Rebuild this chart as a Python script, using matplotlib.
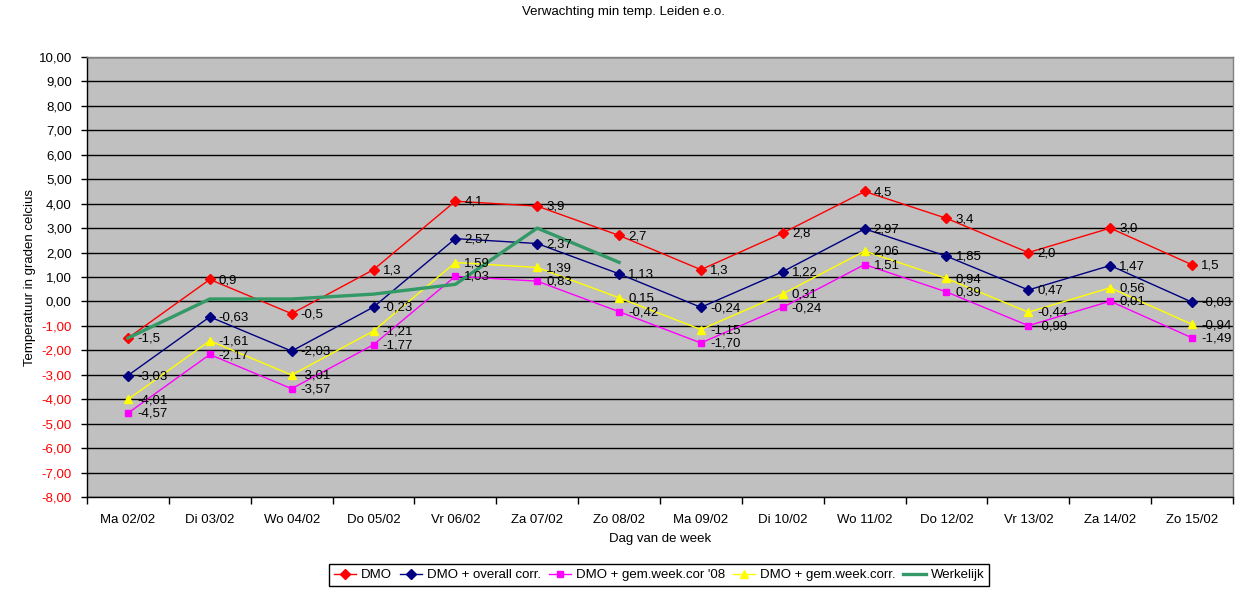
import matplotlib
matplotlib.use("Agg")
import matplotlib.pyplot as plt
from matplotlib.ticker import MultipleLocator, FixedLocator

plt.rcParams['font.family'] = ['Liberation Sans', 'DejaVu Sans']

days = ["Ma 02/02", "Di 03/02", "Wo 04/02", "Do 05/02", "Vr 06/02", "Za 07/02", "Zo 08/02",
        "Ma 09/02", "Di 10/02", "Wo 11/02", "Do 12/02", "Vr 13/02", "Za 14/02", "Zo 15/02"]

dmo = [-1.5, 0.9, -0.5, 1.3, 4.1, 3.9, 2.7, 1.3, 2.8, 4.5, 3.4, 2.0, 3.0, 1.5]
dmo_overall = [-3.03, -0.63, -2.03, -0.23, 2.57, 2.37, 1.13, -0.24, 1.22, 2.97, 1.85, 0.47, 1.47, -0.03]
dmo_week08 = [-4.57, -2.17, -3.57, -1.77, 1.03, 0.83, -0.42, -1.70, -0.24, 1.51, 0.39, -0.99, 0.01, -1.49]
dmo_week = [-4.01, -1.61, -3.01, -1.21, 1.59, 1.39, 0.15, -1.15, 0.31, 2.06, 0.94, -0.44, 0.56, -0.94]
werkelijk = [-1.5, 0.1, 0.1, 0.3, 0.7, 3.0, 1.6]

series_names = ["DMO", "DMO + overall corr.", "DMO + gem.week.cor '08", "DMO + gem.week.corr.", "Werkelijk"]

fig = plt.figure(figsize=(12.5, 5.95), dpi=100)
ax = fig.add_axes([87/1250, 1-497/595, (1233-87)/1250, (497-57)/595])
ax.set_facecolor("#C0C0C0")

x = list(range(len(days)))
fs = 9.5

def fmt(v, d):
    return f"{v:.{d}f}".replace(".", ",")

specs = [
    (dmo, "#FF0000", "D", 5, series_names[0]),
    (dmo_overall, "#000080", "D", 5, series_names[1]),
    (dmo_week08, "#FF00FF", "s", 5, series_names[2]),
    (dmo_week, "#FFFF00", "^", 6, series_names[3]),
]
handles = []
for vals, col, mk, ms, name in specs:
    h, = ax.plot(x, vals, color=col, lw=1, marker=mk, ms=ms, mec=col, mfc=col, zorder=3, label=name)
    handles.append(h)
    d = 1 if name == "DMO" else 2
    for xi, v in zip(x, vals):
        ax.annotate(fmt(v, d), (xi, v), xytext=(6.5, -0.5), textcoords="offset points",
                    ha="left", va="center", fontsize=fs, color="black", zorder=6)

hw, = ax.plot(x[:len(werkelijk)], werkelijk, color="#339966", lw=2.4, zorder=4, label=series_names[4])
handles.append(hw)

ax.set_xlim(-0.5, len(days) - 0.5)
ax.set_ylim(-8, 10)
ax.yaxis.set_major_locator(MultipleLocator(1))
ax.grid(axis="y", color="black", lw=1)
ax.set_axisbelow(True)

yt = list(range(-8, 11))
ax.set_yticks(yt)
ax.set_yticklabels([fmt(v, 2) for v in yt], fontsize=fs)
for lab, v in zip(ax.get_yticklabels(), yt):
    lab.set_color("red" if v < 0 else "black")
ax.tick_params(axis="y", length=4, width=1, pad=7, direction="out")

ax.set_xticks(x)
ax.set_xticklabels(days, fontsize=fs)
ax.tick_params(axis="x", which="major", length=0, pad=12)
ax.xaxis.set_minor_locator(FixedLocator([i - 0.5 for i in range(len(days) + 1)]))
ax.tick_params(axis="x", which="minor", length=5, width=1, direction="out")

for s in ["left", "bottom"]:
    ax.spines[s].set_color("black")
    ax.spines[s].set_linewidth(1)
for s in ["top", "right"]:
    ax.spines[s].set_color("#808080")
    ax.spines[s].set_linewidth(1)

ax.set_xlabel("Dag van de week", fontsize=fs, labelpad=5)
ax.set_ylabel("Temperatuur in graden celcius", fontsize=fs, labelpad=2)

fig.text(623/1250, 1-12/595, "Verwachting min temp. Leiden e.o.", ha="center", va="center", fontsize=fs)

leg = fig.legend(handles=handles, loc="center", bbox_to_anchor=(659/1250, 1-575/595), ncol=5,
                 fontsize=fs, frameon=True, fancybox=False, edgecolor="black", framealpha=1,
                 handlelength=1.7, handletextpad=0.35, columnspacing=0.6, borderpad=0.35,
                 borderaxespad=0)
leg.get_frame().set_linewidth(1)

fig.savefig("out.png", dpi=100)
